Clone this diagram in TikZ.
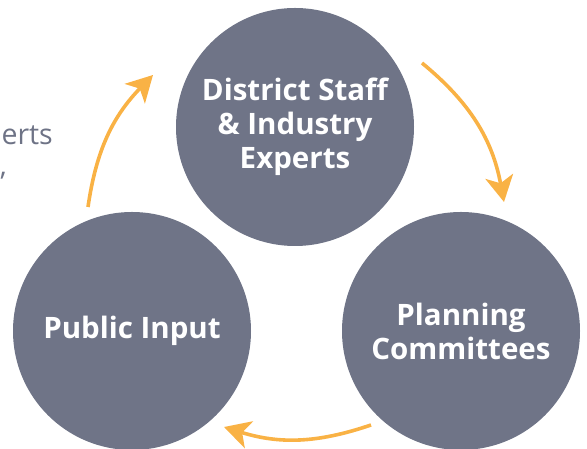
\documentclass[tikz,border=0pt]{standalone}
\usepackage{fontspec}
\setsansfont{Open Sans}
\usepackage{tikz}
\usetikzlibrary{positioning,arrows.meta}

\definecolor{slate}{HTML}{6F7487}
\definecolor{amber}{HTML}{F9B245}
\definecolor{greytext}{HTML}{6E7386}

\begin{document}
\begin{tikzpicture}[x=1pt, y=1pt, every node/.style={font=\sffamily}]
\tikzset{
  mycircle/.style={
    circle,
    fill=slate,
    minimum size=238pt,
    inner sep=0pt,
    text=white,
    align=center,
    font=\sffamily\bfseries\fontsize{29.5}{34}\selectfont,
  },
  myarrow/.style={
    draw=amber,
    line width=3.6pt,
    -{Stealth[length=26pt, width=28pt, inset=7pt]},
  },
  sidetext/.style={
    text=greytext,
    inner sep=0pt,
    font=\sffamily\fontsize{28.5}{30}\selectfont,
  }
}
\useasboundingbox (0,0) rectangle (587,449);

\node[sidetext, anchor=base east] (erts) at (53,304) {erts};
\node[sidetext, anchor=base east] (comma) at (7,273) {,};

\node[mycircle] (staff) at (295,322) {District Staff\\\& Industry\\Experts};
\node[mycircle] (public) at (132,118) {Public Input};
\node[mycircle] (planning) at (461,118) {Planning\\Committees};

\coordinate (a1s) at (88,242);
\coordinate (a1e) at (153,374);
\coordinate (a2s) at (422,386);
\coordinate (a2e) at (504,247);
\coordinate (a3s) at (371,24);
\coordinate (a3e) at (224,22);

\draw[myarrow] (a1s) to[bend left=18] (a1e);
\draw[myarrow] (a2s) to[bend left=20] (a2e);
\draw[myarrow] (a3s) to[bend left=18] (a3e);

\end{tikzpicture}
\end{document}
